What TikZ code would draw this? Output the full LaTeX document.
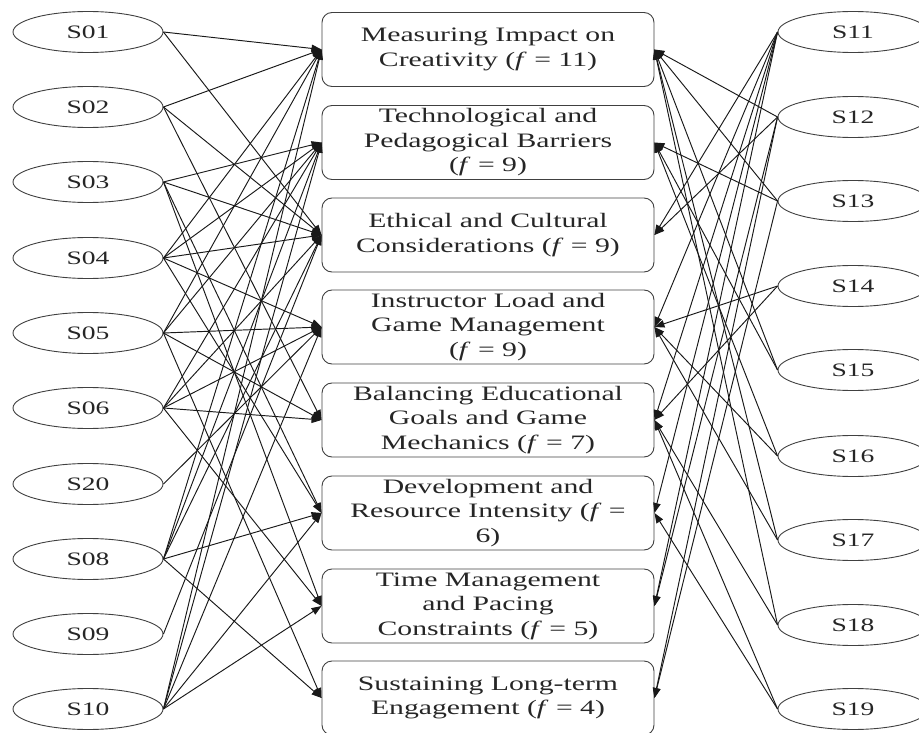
\documentclass[tikz,border=0pt]{standalone}
\usepackage{fontspec}
\setmainfont[FakeStretch=1.45]{Liberation Serif}
\usetikzlibrary{shapes.geometric,arrows.meta}
\begin{document}
\begin{tikzpicture}[x=1pt,y=-1pt,
  src/.style={ellipse,draw=black!75,line width=0.9pt,minimum width=150pt,minimum height=41pt,inner sep=0pt,text=black!85,font=\fontsize{19}{23}\selectfont},
  chal/.style={rectangle,rounded corners=10pt,draw=black!75,line width=0.9pt,minimum width=332pt,minimum height=74pt,align=center,inner sep=0pt,text=black!85,font=\fontsize{20.5}{24.5}\selectfont},
  lnk/.style={draw=black!90,line width=0.95pt,-{Triangle[length=10pt,width=7.5pt]}}
]
\useasboundingbox (0,0) rectangle (919,733);
\clip (0,0) rectangle (919,733);
% left sources
\node[src] (s01) at (88,32) {S01};
\node[src] (s02) at (88,107) {S02};
\node[src] (s03) at (88,182) {S03};
\node[src] (s04) at (88,258) {S04};
\node[src] (s05) at (88,333) {S05};
\node[src] (s06) at (88,408) {S06};
\node[src] (s20) at (88,484) {S20};
\node[src] (s08) at (88,559) {S08};
\node[src] (s09) at (88,634) {S09};
\node[src] (s10) at (88,709) {S10};
% right sources
\node[src] (s11) at (853,32) {S11};
\node[src] (s12) at (853,117) {S12};
\node[src] (s13) at (853,201) {S13};
\node[src] (s14) at (853,286) {S14};
\node[src] (s15) at (853,370) {S15};
\node[src] (s16) at (853,456) {S16};
\node[src] (s17) at (853,540) {S17};
\node[src] (s18) at (853,625) {S18};
\node[src] (s19) at (853,709) {S19};
% challenges
\node[chal] (c1) at (488,49.5) {Measuring Impact on\\Creativity (\textit{f} = 11)};
\node[chal] (c2) at (488,142.5) {Technological and\\Pedagogical Barriers\\(\textit{f} = 9)};
\node[chal] (c3) at (488,235) {Ethical and Cultural\\Considerations (\textit{f} = 9)};
\node[chal] (c4) at (488,327) {Instructor Load and\\Game Management\\(\textit{f} = 9)};
\node[chal] (c5) at (488,420) {Balancing Educational\\Goals and Game\\Mechanics (\textit{f} = 7)};
\node[chal] (c6) at (488,513) {Development and\\Resource Intensity (\textit{f} =\\6)};
\node[chal] (c7) at (488,606) {Time Management\\and Pacing\\Constraints (\textit{f} = 5)};
\node[chal] (c8) at (488,698) {Sustaining Long-term\\Engagement (\textit{f} = 4)};
% left links
\foreach \s/\c in {s01/c1,s01/c3,
  s02/c1,s02/c3,s02/c5,
  s03/c2,s03/c3,s03/c6,s03/c7,
  s04/c1,s04/c2,s04/c3,s04/c4,s04/c6,
  s05/c1,s05/c2,s05/c4,s05/c5,s05/c8,
  s06/c2,s06/c3,s06/c4,s06/c5,s06/c7,
  s20/c4,
  s08/c1,s08/c2,s08/c3,s08/c6,s08/c8,
  s09/c3,
  s10/c1,s10/c2,s10/c4,s10/c6,s10/c7}
  \draw[lnk] (\s.east) -- (\c.west);
% right links
\foreach \s/\c in {s11/c3,s11/c4,s11/c5,s11/c6,s11/c7,
  s12/c1,s12/c3,s12/c7,s12/c8,
  s13/c1,s13/c2,s13/c8,
  s14/c4,s14/c5,
  s15/c1,s15/c2,
  s16/c2,s16/c4,
  s17/c1,s17/c4,
  s18/c1,s18/c5,
  s19/c5,s19/c6}
  \draw[lnk] (\s.west) -- (\c.east);
\end{tikzpicture}
\end{document}
